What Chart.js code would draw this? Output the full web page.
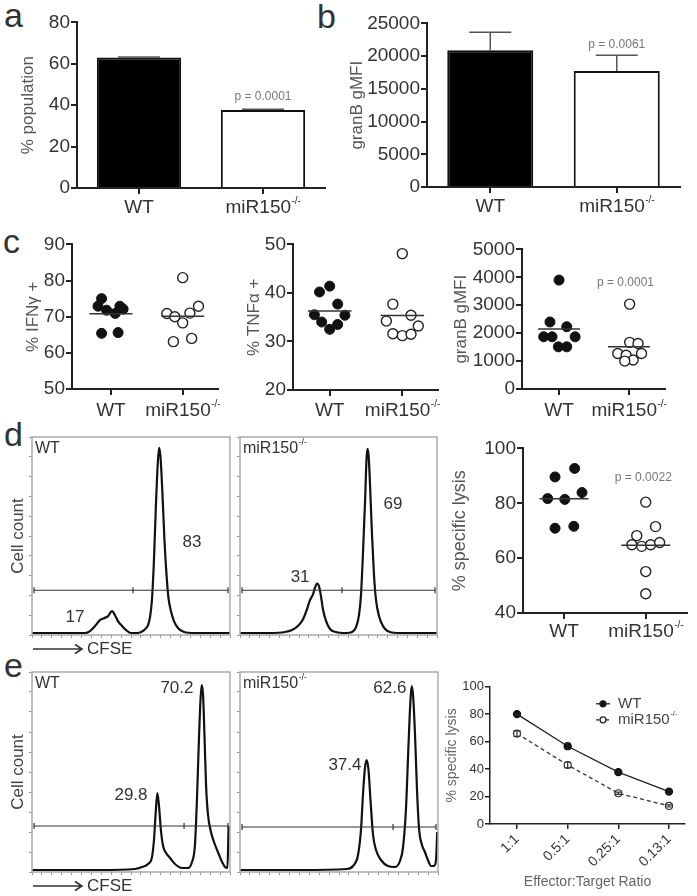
<!DOCTYPE html>
<html>
<head>
<meta charset="utf-8">
<script src="https://cdn.jsdelivr.net/npm/chart.js@4.4.1/dist/chart.umd.min.js"></script>
<style>
  body { margin:0; background:#fff; }
  #page { position:relative; width:697px; height:896px; overflow:hidden; font-family:"Liberation Sans", Arial, sans-serif; color:#333; }
  #page canvas { position:absolute; }
  .tag { position:absolute; font-size:34px; line-height:1; color:#333; }
  .cfse { position:absolute; height:18px; display:flex; align-items:center; font-size:17px; color:#333; }
  .cfse svg { margin-right:3px; }
</style>
</head>
<body>
<div id="page">
  <div class="tag" style="left:4px;top:-2px">a</div>
  <div class="tag" style="left:317px;top:-1px">b</div>
  <div class="tag" style="left:3px;top:224px">c</div>
  <div class="tag" style="left:4px;top:417px">d</div>
  <div class="tag" style="left:4px;top:648px">e</div>

  <canvas id="cA"></canvas><canvas id="cB"></canvas>
  <canvas id="cC1"></canvas><canvas id="cC2"></canvas><canvas id="cC3"></canvas>
  <canvas id="cD1"></canvas><canvas id="cD2"></canvas><canvas id="cD3"></canvas>
  <canvas id="cE1"></canvas><canvas id="cE2"></canvas><canvas id="cE3"></canvas>

  <div class="cfse" style="left:32px;top:640px"><svg width="52" height="12"><path d="M1 6H50M43 1.5L50 6L43 10.5" stroke="#333" stroke-width="1.6" fill="none"/></svg>CFSE</div>
  <div class="cfse" style="left:32px;top:877px"><svg width="52" height="12"><path d="M1 6H50M43 1.5L50 6L43 10.5" stroke="#333" stroke-width="1.6" fill="none"/></svg>CFSE</div>
</div>

<script>
const FONT = '"Liberation Sans", Arial, sans-serif';

// ---------- data ----------
const groups = ['WT', 'miR150'];
const groupSups = ['', '-/-'];

// a: % population (mean, sem)
const popMean = [63.0, 37.7];
const popErr = [0.3, 0.4];
// b: granB gMFI
const gzbMean = [20900, 17730];
const gzbErr = [2740, 2420];

// c: per-mouse values
const ifnWt = [75.0, 72.9, 71.8, 70.9, 72.9, 72.1, 65.4, 65.6];
const ifnKo = [80.8, 72.9, 71.0, 70.9, 70.0, 68.3, 63.1, 64.0];
const tnfWt = [41.4, 40.2, 37.7, 35.5, 35.4, 34.0, 33.5, 32.5];
const tnfKo = [48.1, 37.7, 34.2, 35.4, 33.2, 31.6, 31.2, 31.5];
const gmfiWt = [3900, 2400, 1870, 1870, 2230, 1870, 1510, 1510];
const gmfiKo = [3040, 1670, 1630, 1270, 1210, 1270, 1040, 1000];
// d: % specific lysis per mouse
const lysisWt = [89.6, 92.7, 81.7, 81.4, 83.9, 70.9, 71.6];
const lysisKo = [80.4, 71.5, 68.2, 64.9, 64.3, 64.9, 65.7, 55.1, 47.0];

// horizontal scatter of the dots, in category units
const ifnWtJit = [-0.13, -0.18, -0.06, 0.06, 0.125, 0.17, -0.13, 0.10];
const ifnKoJit = [0, 0.22, 0.10, -0.22, -0.11, 0, -0.13, 0.125];
const tnfWtJit = [0, -0.14, 0.11, -0.21, 0.21, -0.11, 0.11, 0];
const tnfKoJit = [0, -0.13, -0.22, 0.12, 0.22, -0.13, 0, 0.12];
const gmfiWtJit = [0, -0.13, -0.22, -0.10, 0.11, 0.23, -0.01, 0.11];
const gmfiKoJit = [0.01, 0.01, 0.13, -0.16, -0.04, 0.18, 0.06, -0.06];
const lysisWtJit = [-0.11, 0.13, -0.20, 0.01, 0.22, -0.11, 0.12];
const lysisKoJit = [0, 0.12, -0.11, -0.17, -0.05, 0.06, 0.17, 0, 0];

const pVals = ['p = 0.0001', 'p = 0.0061', 'p = 0.0001', 'p = 0.0022'];

// d/e: CFSE histograms (channel 0-1000, relative cell count 0-100)
const dWtCh    = [0, 141, 268, 293, 318, 343, 364, 384, 404, 419, 434, 455, 475, 500, 535, 566, 586, 596, 606, 616, 626, 636, 642, 649, 659, 669, 679, 689, 702, 717, 737, 768, 823, 1000];
const dWtCount = [1, 1, 1, 2, 4.5, 7.5, 8.5, 9.5, 12.1, 10, 7, 4.5, 2.5, 1, 1, 2.5, 5, 9, 18, 38, 66, 88, 94.5, 90, 71, 48, 31, 19, 12, 7, 3.5, 1.5, 1, 1];
const dKoCh    = [0, 152, 228, 264, 294, 320, 340, 355, 371, 381, 391, 401, 411, 421, 437, 457, 487, 538, 569, 589, 604, 614, 624, 635, 642, 647, 653, 660, 670, 680, 690, 706, 726, 761, 812, 1000];
const dKoCount = [1, 1, 1.5, 2.5, 4.5, 8, 13, 17.6, 20.6, 24, 26, 24.6, 19.6, 13, 7, 3, 1.5, 1, 1.5, 4, 10, 20, 40.7, 68, 88.4, 94, 90.5, 76, 50.8, 30.7, 18, 9.5, 4.5, 1.5, 1, 1];
const eWtCh    = [0, 343, 520, 556, 586, 606, 616, 624, 633, 641, 651, 662, 677, 697, 722, 758, 788, 808, 823, 833, 843, 851, 857, 864, 871, 879, 889, 904, 919, 939, 960, 975, 987, 993];
const eWtCount = [1, 1, 1.5, 2.5, 4, 7.5, 16, 28.5, 39.5, 33.5, 21, 13, 9.5, 7, 4, 2, 2, 5, 13.5, 36, 66, 86, 93.5, 88.5, 68.5, 43.5, 28.5, 20, 15, 10, 5, 2.5, 2, 23];
const eKoCh    = [0, 303, 540, 571, 596, 611, 621, 631, 640, 649, 659, 672, 687, 712, 747, 783, 808, 823, 838, 851, 861, 867, 874, 884, 894, 904, 919, 934, 949, 965, 980, 990, 996];
const eKoCount = [1, 1, 1.5, 3, 8.5, 21, 38.5, 52, 56, 51, 36, 18.5, 11, 6, 3, 2.5, 5.5, 12, 31, 63.5, 86, 93, 88.5, 68.5, 41, 22, 13.5, 10, 6, 3, 3, 6, 20];
// gate: level and split channel; gate percentages (low, high)
const dWtGate = [22.6, 510], dKoGate = [22.6, 518], eWtGate = [23, 768], eKoGate = [22.5, 773];
const dWtPct = ['17', '83'], dKoPct = ['31', '69'], eWtPct = ['29.8', '70.2'], eKoPct = ['37.4', '62.6'];

// e: killing curve
const etRatios = ['1:1', '0.5:1', '0.25:1', '0.13:1'];
const etWt = [80.1, 56.7, 37.8, 23.6];
const etWtErr = [0.8, 2.0, 1.0, 1.0];
const etKo = [65.9, 43.0, 22.4, 13.2];
const etKoErr = [2.0, 2.0, 0.8, 0.8];

// ---------- helpers ----------
function supText(ctx, x, y, base, sup, size, align, color) {
  ctx.save();
  ctx.fillStyle = color; ctx.textBaseline = 'middle'; ctx.textAlign = 'left';
  ctx.font = size + 'px ' + FONT;
  const bw = ctx.measureText(base).width;
  const ss = Math.round(size * 0.55);
  ctx.font = ss + 'px ' + FONT;
  const sw = sup ? ctx.measureText(sup).width : 0;
  let x0 = x;
  if (align === 'center') x0 = x - (bw + sw) / 2;
  else if (align === 'right') x0 = x - bw - sw;
  ctx.font = size + 'px ' + FONT;
  ctx.fillText(base, x0, y);
  if (sup) { ctx.font = ss + 'px ' + FONT; ctx.fillText(sup, x0 + bw + 0.5, y - size * 0.38); }
  ctx.restore();
}

const deco = {
  id: 'deco',
  afterDatasetsDraw(chart, args, o) {
    const ctx = chart.ctx, xs = chart.scales.x, ys = chart.scales.y, a = chart.chartArea;
    if (o.frame) {
      ctx.save(); ctx.strokeStyle = o.frame; ctx.lineWidth = 1.5;
      ctx.strokeRect(a.left, a.top, a.right - a.left, a.bottom - a.top); ctx.restore();
    }
    if (o.gate) {
      const gy = ys.getPixelForValue(o.gate[0]), gx = xs.getPixelForValue(o.gate[1]);
      ctx.save(); ctx.strokeStyle = '#333'; ctx.lineWidth = 1.2; ctx.beginPath();
      ctx.moveTo(a.left + 2, gy); ctx.lineTo(a.right - 2, gy);
      [a.left + 2, gx, a.right - 2].forEach(x => { ctx.moveTo(x, gy - 3); ctx.lineTo(x, gy + 3); });
      ctx.stroke(); ctx.restore();
    }
    (o.errors || []).forEach(e => {
      const meta = chart.getDatasetMeta(e.ds);
      ctx.save(); ctx.strokeStyle = e.color || '#444'; ctx.lineWidth = e.width || 1.5;
      e.err.forEach((v, i) => {
        const d = chart.data.datasets[e.ds].data[i];
        const val = typeof d === 'object' ? d.y : d, x = meta.data[i].x;
        const y0 = ys.getPixelForValue(e.both ? val - v : val), y1 = ys.getPixelForValue(val + v);
        ctx.beginPath(); ctx.moveTo(x, y0); ctx.lineTo(x, y1);
        ctx.moveTo(x - e.cap, y1); ctx.lineTo(x + e.cap, y1);
        if (e.both) { ctx.moveTo(x - e.cap, y0); ctx.lineTo(x + e.cap, y0); }
        ctx.stroke();
      });
      ctx.restore();
    });
    (o.means || []).forEach(m => {
      const vals = chart.data.datasets[m.ds].data.map(p => p.y);
      const mean = vals.reduce((s, v) => s + v, 0) / vals.length;
      const y = ys.getPixelForValue(mean);
      ctx.save(); ctx.strokeStyle = '#333'; ctx.lineWidth = 1.5; ctx.beginPath();
      ctx.moveTo(xs.getPixelForValue(m.cat - m.half), y); ctx.lineTo(xs.getPixelForValue(m.cat + m.half), y);
      ctx.stroke(); ctx.restore();
    });
    if (o.cats) {
      o.cats.values.forEach((v, i) => supText(ctx, xs.getPixelForValue(v), a.bottom + o.cats.dy, groups[i], groupSups[i], o.cats.size, 'center', '#333'));
    }
    (o.notes || []).forEach(n => supText(ctx, xs.getPixelForValue(n.x), ys.getPixelForValue(n.y), n.text, n.sup || '', n.size, n.align || 'center', n.color || '#333'));
    if (o.legend) {
      const L = o.legend;
      L.items.forEach((it, k) => {
        const y = a.top + L.dy + k * L.gap, x0 = a.left + L.dx;
        ctx.save(); ctx.strokeStyle = '#222'; ctx.lineWidth = 1.3; ctx.setLineDash(it.dash || []);
        ctx.beginPath(); ctx.moveTo(x0, y); ctx.lineTo(x0 + 14, y); ctx.stroke(); ctx.setLineDash([]);
        ctx.beginPath(); ctx.arc(x0 + 7, y, 3, 0, Math.PI * 2); ctx.fillStyle = it.fill; ctx.fill(); ctx.stroke(); ctx.restore();
        supText(ctx, x0 + 22, y, it.text, it.sup, L.size, 'left', '#444');
      });
    }
  }
};

Chart.register(deco);
Chart.defaults.font.family = FONT;
Chart.defaults.color = '#333';
Chart.defaults.animation = false;
Chart.defaults.plugins.legend.display = false;
Chart.defaults.plugins.tooltip.enabled = false;

function place(id, area, yW, xH, padT, padR) {
  const c = document.getElementById(id);
  const w = area[2] - area[0] + yW + padR, h = area[3] - area[1] + padT + xH;
  c.style.left = (area[0] - yW) + 'px'; c.style.top = (area[1] - padT) + 'px';
  c.style.width = w + 'px'; c.style.height = h + 'px';
  c.width = w; c.height = h;
  return c;
}

function axisY(min, max, step, size, w, title, tSize, tColor) {
  return {
    min, max,
    ticks: { stepSize: step, font: { size }, color: '#333', padding: 1, callback: v => String(v) },
    border: { display: true, color: '#222', width: 2 },
    grid: { drawOnChartArea: false, tickLength: 6, color: '#222', lineWidth: 2 },
    title: { display: !!title, text: title, font: { size: tSize }, color: tColor || '#444', padding: { top: 4, bottom: 4 } },
    afterFit: s => { s.width = w; }
  };
}
function axisXCat(h) {
  return {
    type: 'category', offset: true,
    ticks: { display: false },
    border: { display: true, color: '#222', width: 2 },
    grid: { offset: false, drawOnChartArea: false, tickLength: 6, color: '#222', lineWidth: 2 },
    afterFit: s => { s.height = h; }
  };
}
function axisXLin(min, max, h) {
  return {
    type: 'linear', min, max,
    afterBuildTicks: s => { s.ticks = [{ value: 1 }, { value: 2 }]; },
    ticks: { display: false },
    border: { display: true, color: '#222', width: 2 },
    grid: { drawOnChartArea: false, tickLength: 6, color: '#222', lineWidth: 2 },
    afterFit: s => { s.height = h; }
  };
}

function barPanel(id, area, yW, vals, errs, yOpt, pNote) {
  return new Chart(place(id, area, yW, 35, 12, 8), {
    type: 'bar',
    data: { labels: groups, datasets: [{ data: vals, backgroundColor: ['#000', '#fff'], borderColor: '#111', borderWidth: 2, barPercentage: 0.68, categoryPercentage: 1 }] },
    options: {
      responsive: false, maintainAspectRatio: false,
      layout: { padding: { top: 12, right: 8 } },
      scales: { x: axisXCat(35), y: yOpt },
      plugins: { deco: { errors: [{ ds: 0, err: errs, cap: 21, color: '#555' }], cats: { values: [0, 1], size: 19, dy: 20 }, notes: [pNote] } }
    }
  });
}

function dotPanel(id, area, yW, xMin, xMax, wt, wtJit, ko, koJit, yOpt, dy, notes) {
  return new Chart(place(id, area, yW, 35, 12, 6), {
    type: 'scatter',
    data: { datasets: [
      { data: wt.map((v, i) => ({ x: 1 + wtJit[i], y: v })), pointRadius: 5, backgroundColor: '#111', borderColor: '#111', borderWidth: 1 },
      { data: ko.map((v, i) => ({ x: 2 + koJit[i], y: v })), pointRadius: 5, backgroundColor: '#fff', borderColor: '#222', borderWidth: 1.4 }
    ] },
    options: {
      responsive: false, maintainAspectRatio: false,
      layout: { padding: { top: 12, right: 6 } },
      scales: { x: axisXLin(xMin, xMax, 35), y: yOpt },
      plugins: { deco: { means: [{ ds: 0, cat: 1, half: 0.3 }, { ds: 1, cat: 2, half: 0.3 }], cats: { values: [1, 2], size: 19, dy }, notes: notes || [] } }
    }
  });
}

function histPanel(id, area, yW, ch, counts, gate, pct, tag, tagSup, title) {
  return new Chart(place(id, area, yW, 6, 4, 2), {
    type: 'scatter',
    data: { datasets: [{ data: ch.map((c, i) => ({ x: c, y: counts[i] })), showLine: true, pointRadius: 0, borderColor: '#111', borderWidth: 2.2, cubicInterpolationMode: 'monotone' }] },
    options: {
      responsive: false, maintainAspectRatio: false,
      layout: { padding: { top: 4, right: 2 } },
      scales: {
        x: { min: 0, max: 1000, ticks: { display: false, stepSize: 50 }, border: { display: false }, grid: { drawOnChartArea: false, tickLength: 3, color: '#999' }, afterFit: s => { s.height = 6; } },
        y: { min: 0, max: 100, ticks: { display: false, stepSize: 10 }, border: { display: false }, grid: { drawOnChartArea: false, tickLength: 3, color: '#999' },
             title: { display: !!title, text: title || '', font: { size: 17 }, color: '#444' }, afterFit: s => { s.width = yW; } }
      },
      plugins: { deco: { frame: '#aaa', gate, notes: [
        { x: 15, y: 94, text: tag, sup: tagSup, size: 16, align: 'left' },
        { x: pct.lx, y: pct.ly, text: pct.lo, size: 17 },
        { x: pct.hx, y: pct.hy, text: pct.hi, size: 17 }
      ] } }
    }
  });
}

// ---------- a, b ----------
barPanel('cA', [77, 22, 325, 188], 63, popMean, popErr,
  axisY(0, 80, 20, 19, 63, '% population', 17, '#555'),
  { x: 1, y: 43.9, text: pVals[0], size: 12, color: '#777' });
barPanel('cB', [427, 23, 680, 187], 84, gzbMean, gzbErr,
  axisY(0, 25000, 5000, 19, 84, 'granB gMFI', 17, '#555'),
  { x: 1, y: 21800, text: pVals[1], size: 12, color: '#777' });

// ---------- c ----------
dotPanel('cC1', [72, 244, 218, 389], 53, 0.458, 2.486, ifnWt, ifnWtJit, ifnKo, ifnKoJit,
  axisY(50, 90, 10, 19, 53, '% IFNγ +', 17, '#555'), 22);
dotPanel('cC2', [293, 244, 438, 390], 53, 0.495, 2.486, tnfWt, tnfWtJit, tnfKo, tnfKoJit,
  axisY(20, 50, 10, 19, 53, '% TNFα +', 17, '#555'), 21);
dotPanel('cC3', [522, 249, 665, 389], 75, 0.47, 2.51, gmfiWt, gmfiWtJit, gmfiKo, gmfiKoJit,
  axisY(0, 5000, 1000, 19, 75, 'granB gMFI', 17, '#555'), 22,
  [{ x: 1.95, y: 3790, text: pVals[2], size: 12, color: '#777' }]);

// ---------- d ----------
histPanel('cD1', [32, 437, 230, 635], 28, dWtCh, dWtCount, dWtGate,
  { lo: dWtPct[0], lx: 217, ly: 9, hi: dWtPct[1], hx: 808, hy: 47 }, 'WT', '', 'Cell count');
histPanel('cD2', [240, 437, 437, 635], 4, dKoCh, dKoCount, dKoGate,
  { lo: dKoPct[0], lx: 305, ly: 29, hi: dKoPct[1], hx: 777, hy: 66 }, 'miR150', '-/-', '');
dotPanel('cD3', [523, 448, 687, 613], 78, 0.498, 2.50, lysisWt, lysisWtJit, lysisKo, lysisKoJit,
  axisY(40, 100, 20, 19, 78, '% specific lysis', 18, '#555'), 19,
  [{ x: 1.97, y: 89.5, text: pVals[3], size: 12, color: '#777' }]);

// ---------- e ----------
histPanel('cE1', [32, 672, 230, 872], 28, eWtCh, eWtCount, eWtGate,
  { lo: eWtPct[0], lx: 500, ly: 38.5, hi: eWtPct[1], hx: 732, hy: 92 }, 'WT', '', 'Cell count');
histPanel('cE2', [240, 672, 438, 872], 4, eKoCh, eKoCount, eKoGate,
  { lo: eKoPct[0], lx: 530, ly: 53.5, hi: eKoPct[1], hx: 757, hy: 92 }, 'miR150', '-/-', '');

new Chart(place('cE3', [490, 686, 685, 824], 50, 71, 8, 8), {
  type: 'scatter',
  data: { datasets: [
    { data: etWt.map((v, i) => ({ x: i, y: v })), showLine: true, borderColor: '#222', borderWidth: 1.3, pointRadius: 3.5, pointBackgroundColor: '#111', pointBorderColor: '#111' },
    { data: etKo.map((v, i) => ({ x: i, y: v })), showLine: true, borderColor: '#333', borderWidth: 1.3, borderDash: [4, 3], pointRadius: 3.5, pointBackgroundColor: '#fff', pointBorderColor: '#333', pointBorderWidth: 1.2 }
  ] },
  options: {
    responsive: false, maintainAspectRatio: false,
    layout: { padding: { top: 8, right: 8 } },
    scales: {
      x: { type: 'linear', min: -0.533, max: 3.316,
           afterBuildTicks: s => { s.ticks = etRatios.map((r, i) => ({ value: i })); },
           ticks: { callback: v => etRatios[v], minRotation: 45, maxRotation: 45, font: { size: 14 }, color: '#333', padding: 2 },
           border: { display: true, color: '#222', width: 1.5 },
           grid: { drawOnChartArea: false, tickLength: 5, color: '#222', lineWidth: 1.5 },
           title: { display: true, text: 'Effector:Target Ratio', font: { size: 14 }, color: '#666' },
           afterFit: s => { s.height = 71; } },
      y: { min: 0, max: 100, ticks: { stepSize: 20, font: { size: 13 }, color: '#333', padding: 1 },
           border: { display: true, color: '#222', width: 1.5 },
           grid: { drawOnChartArea: false, tickLength: 5, color: '#222', lineWidth: 1.5 },
           title: { display: true, text: '% specific lysis', font: { size: 14 }, color: '#666' },
           afterFit: s => { s.width = 50; } }
    },
    plugins: { deco: {
      errors: [{ ds: 0, err: etWtErr, cap: 3, both: true, color: '#222', width: 1.2 }, { ds: 1, err: etKoErr, cap: 3.5, both: true, color: '#333', width: 1.2 }],
      legend: { dx: 106, dy: 17, gap: 16, size: 15, items: [
        { text: groups[0], sup: groupSups[0], fill: '#111' },
        { text: groups[1], sup: groupSups[1], fill: '#fff', dash: [3, 2] }
      ] }
    } }
  }
});
</script>
</body>
</html>
